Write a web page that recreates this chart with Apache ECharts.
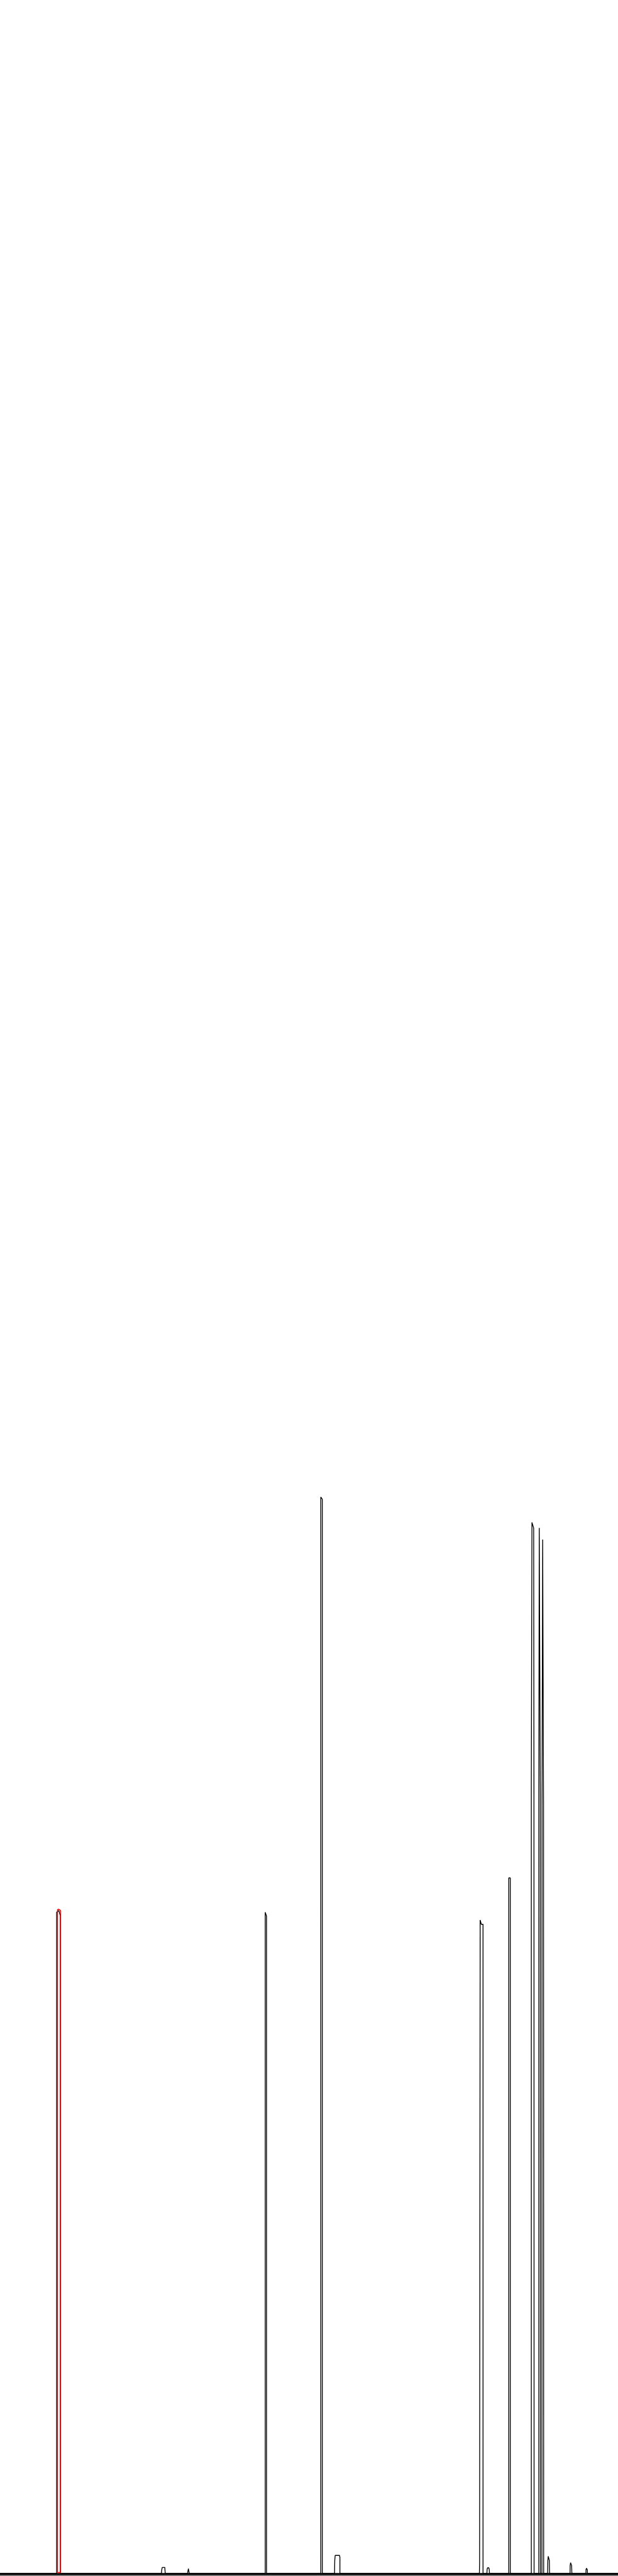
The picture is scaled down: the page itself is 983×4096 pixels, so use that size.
<!DOCTYPE html>
<html>
<head>
<meta charset="utf-8">
<script src="https://cdn.jsdelivr.net/npm/echarts@6/dist/echarts.min.js"></script>
<style>
html,body{margin:0;padding:0;background:#ffffff;}
#chart{width:983px;height:4096px;}
</style>
</head>
<body>
<div id="chart"></div>
<script>
// Spectrum trace (position, intensity)
const spectrumX = [
  0,
  132, 132, 137, 140.5, 140.5,
  376, 377, 378, 384, 385,
  437, 438, 439, 440, 441,
  618, 618, 619.5, 621, 621,
  747.5, 747.5, 749, 751, 751,
  779.5, 780, 781, 791, 792, 792,
  1117, 1117.5, 1118.8, 1120, 1121.5, 1125.5, 1125.5,
  1134.5, 1135, 1136, 1139, 1140, 1140.5,
  1185.5, 1185.5, 1189, 1189,
  1238, 1238, 1239.5, 1242, 1243.5, 1244.2, 1244.5,
  1255.5, 1255.5, 1256.5, 1258.5, 1259, 1259.3,
  1262.8, 1263, 1264.5, 1265.5, 1266.5, 1266.8,
  1276, 1276.5, 1277.5, 1278.5, 1280, 1280.5,
  1328.3, 1328.5, 1329.5, 1331, 1332, 1332.5,
  1365.3, 1365.5, 1366.5, 1367.5, 1368.5, 1368.8,
  1440
];
const spectrumY = [
  0,
  0, 1540, 1544, 1532, 0,
  0, 9, 14, 14, 0,
  0, 6, 11, 11, 0,
  0, 1540, 1540, 1531, 0,
  0, 2507, 2507, 2502, 0,
  0, 30, 42, 42, 38, 0,
  0, 22, 1522, 1522, 1512, 1512, 0,
  0, 9, 13, 13, 9, 0,
  0, 1620, 1620, 0,
  0, 1835, 2448, 2448, 2435, 1815, 0,
  0, 1826, 2435, 2435, 1815, 0,
  0, 1805, 2408, 2408, 1795, 0,
  0, 30, 40, 40, 30, 0,
  0, 18, 25, 25, 18, 0,
  0, 9, 12, 12, 9, 0,
  0
];
// Highlighted peak outline (red)
const highlightX = [134, 134, 137, 141, 141, 134];
const highlightY = [2, 1546, 1547, 1544, 2, 2];

const S = 983 / 1440;
const pairs = (xs, ys) => xs.map((x, i) => [x, ys[i]]);

const chart = echarts.init(document.getElementById('chart'), null, {renderer: 'canvas'});
chart.setOption({
  animation: false,
  backgroundColor: '#ffffff',
  grid: {left: 0, right: 0, top: 0, bottom: 2 * S, containLabel: false},
  xAxis: [
    {
      type: 'value', min: 0, max: 1440,
      axisLine: {show: true, onZero: true, lineStyle: {color: '#000', width: 4 * S}},
      axisTick: {show: false}, axisLabel: {show: false}, splitLine: {show: false}
    },
    {
      type: 'value', min: 0, max: 1440, position: 'bottom',
      axisLine: {show: true, onZero: false, lineStyle: {color: '#000', width: 2 * S}},
      axisTick: {show: false}, axisLabel: {show: false}, splitLine: {show: false}
    }
  ],
  yAxis: {
    type: 'value', min: -4, max: 5994,
    axisLine: {show: false}, axisTick: {show: false}, axisLabel: {show: false}, splitLine: {show: false}
  },
  series: [
    {
      type: 'line', xAxisIndex: 0, data: pairs(spectrumX, spectrumY),
      showSymbol: false, symbol: 'none', smooth: false,
      lineStyle: {color: '#000000', width: 2 * S}, z: 2
    },
    {
      type: 'line', xAxisIndex: 0, data: pairs(highlightX, highlightY),
      showSymbol: false, symbol: 'none', smooth: false,
      lineStyle: {color: '#ff0000', width: 2.2 * S}, z: 3
    }
  ]
});
</script>
</body>
</html>
